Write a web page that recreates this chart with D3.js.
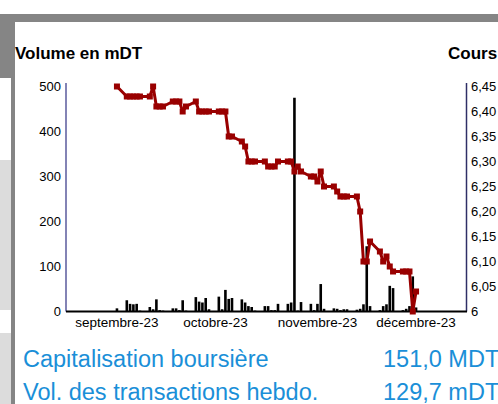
<!DOCTYPE html>
<html>
<head>
<meta charset="utf-8">
<script src="https://cdn.jsdelivr.net/npm/d3@7"></script>
<style>
  html, body { margin: 0; padding: 0; background: #fff; }
  svg { display: block; font-family: "Liberation Sans", Arial, sans-serif; }
</style>
</head>
<body>
<div id="chart"></div>
<script>
// trading days, closing price (DT) and traded volume (mDT)
const days = [
  "2023-09-15","2023-09-18","2023-09-19","2023-09-20","2023-09-21","2023-09-22",
  "2023-09-25","2023-09-26","2023-09-27","2023-09-28","2023-09-29",
  "2023-10-02","2023-10-03","2023-10-04","2023-10-05","2023-10-06",
  "2023-10-09","2023-10-10","2023-10-11","2023-10-12","2023-10-13",
  "2023-10-16","2023-10-17","2023-10-18","2023-10-19","2023-10-20",
  "2023-10-23","2023-10-24","2023-10-25","2023-10-26","2023-10-27",
  "2023-10-30","2023-10-31","2023-11-01","2023-11-02","2023-11-03",
  "2023-11-06","2023-11-07","2023-11-08","2023-11-09","2023-11-10",
  "2023-11-13","2023-11-14","2023-11-15","2023-11-16","2023-11-17",
  "2023-11-20","2023-11-21","2023-11-22","2023-11-23","2023-11-24",
  "2023-11-27","2023-11-28","2023-11-29","2023-11-30","2023-12-01",
  "2023-12-04","2023-12-05","2023-12-06","2023-12-07","2023-12-08",
  "2023-12-11","2023-12-12","2023-12-13","2023-12-14","2023-12-15"
];
const prices = [
  6.45, 6.43, 6.43, 6.43, 6.43, 6.43,
  6.43, 6.45, 6.41, 6.41, 6.41,
  6.42, 6.42, 6.42, 6.40, 6.41,
  6.42, 6.40, 6.40, 6.40, 6.40,
  6.40, 6.40, 6.40, 6.35, 6.35,
  6.34, 6.33, 6.30, 6.30, 6.30,
  6.30, 6.29, 6.29, 6.29, 6.30,
  6.30, 6.30, 6.28, 6.29, 6.28,
  6.27, 6.27, 6.26, 6.28, 6.25,
  6.25, 6.24, 6.23, 6.23, 6.23,
  6.23, 6.20, 6.10, 6.10, 6.14,
  6.12, 6.10, 6.11, 6.09, 6.08,
  6.08, 6.08, 6.08, 6.00, 6.04
];
const volumes = [
  7, 25, 17, 16, 17, 2,
  10, 5, 27, 3, 2,
  7, 7, 3, 25, 2,
  32, 22, 20, 30, 5,
  33, 5, 48, 28, 30,
  27, 20, 12, 10, 2,
  12, 12, 3, 3, 17,
  17, 20, 475, 2, 21,
  17, 3, 17, 61, 6,
  7, 6, 3, 5, 5,
  4, 6, 16, 145, 12,
  3, 12, 16, 57, 52,
  3, 6, 12, 78, 9
];

const monthTicks = ["2023-09-15", "2023-10-15", "2023-11-15", "2023-12-15"];
const monthLabels = ["septembre-23", "octobre-23", "novembre-23", "décembre-23"];
const volTicks = [0, 100, 200, 300, 400, 500];
const priceTicks = [6, 6.05, 6.10, 6.15, 6.20, 6.25, 6.30, 6.35, 6.40, 6.45];
const priceLabels = ["6", "6,05", "6,10", "6,15", "6,20", "6,25", "6,30", "6,35", "6,40", "6,45"];

const infoLabels = ["Capitalisation boursière", "Vol. des transactions hebdo."];
const infoValues = ["151,0 MDT", "129,7 mDT"];

const W = 498, H = 404;
const plot = {left: 66, right: 467, top: 86.5, bottom: 311.5};
const parse = d3.timeParse("%Y-%m-%d");
const data = days.map((d, i) => ({date: parse(d), price: prices[i], vol: volumes[i]}));

const svg = d3.select("#chart").append("svg")
  .attr("width", W)
  .attr("height", H);

// grey page frame around the widget
svg.append("rect").attr("x", 0).attr("y", 14).attr("width", W).attr("height", 8).attr("fill", "#858585");
svg.append("rect").attr("x", 0).attr("y", 14).attr("width", 15).attr("height", 64).attr("fill", "#858585");
svg.append("rect").attr("x", 0).attr("y", 160).attr("width", 11).attr("height", 150).attr("fill", "#dcdcdc");
svg.append("rect").attr("x", 0).attr("y", 333).attr("width", 11).attr("height", 71).attr("fill", "#dcdcdc");
svg.append("rect").attr("x", 11).attr("y", 14).attr("width", 4).attr("height", H - 14).attr("fill", "#858585");

// scales
const x = d3.scaleTime()
  .domain([new Date(2023, 7, 30, 12), new Date(2023, 11, 30, 12)])
  .range([plot.left, plot.right]);
const yVol = d3.scaleLinear().domain([0, 500]).range([plot.bottom, plot.top]);
const yPrice = d3.scaleLinear().domain([6, 6.45]).range([plot.bottom, plot.top]);

// titles
svg.append("text")
  .attr("x", 15).attr("y", 59)
  .attr("font-size", "17px").attr("font-weight", "bold")
  .text("Volume en mDT");
svg.append("text")
  .attr("x", 448).attr("y", 59)
  .attr("font-size", "17px").attr("font-weight", "bold")
  .text("Cours");

// left axis
const leftAxis = svg.append("g")
  .attr("transform", `translate(${plot.left}, 0)`)
  .call(d3.axisLeft(yVol).tickValues(volTicks).tickSize(0).tickPadding(5))
  .call(g => g.select(".domain").remove());
leftAxis.selectAll("text").attr("font-size", "13px").attr("fill", "#000").attr("font-family", null);
svg.append("line")
  .attr("x1", plot.left).attr("x2", plot.left)
  .attr("y1", 83).attr("y2", plot.bottom)
  .attr("stroke", "#5a5a9c").attr("stroke-width", 1.5);

// right axis
const rightAxis = svg.append("g")
  .attr("transform", `translate(${plot.right}, 0)`)
  .call(d3.axisRight(yPrice).tickValues(priceTicks)
    .tickFormat((d, i) => priceLabels[i]).tickSize(0).tickPadding(4))
  .call(g => g.select(".domain").remove());
rightAxis.selectAll("text").attr("font-size", "13px").attr("fill", "#000").attr("font-family", null);
svg.append("line")
  .attr("x1", plot.right - 0.5).attr("x2", plot.right - 0.5)
  .attr("y1", 83).attr("y2", plot.bottom)
  .attr("stroke", "#2e2e66").attr("stroke-width", 1.5);

// volume bars
svg.append("g")
  .selectAll("rect")
  .data(data)
  .join("rect")
  .attr("x", d => x(d.date) - 1.3)
  .attr("y", d => yVol(d.vol))
  .attr("width", 2.6)
  .attr("height", d => plot.bottom - yVol(d.vol))
  .attr("fill", "#000");

// bottom axis
svg.append("line")
  .attr("x1", plot.left).attr("x2", plot.right)
  .attr("y1", plot.bottom).attr("y2", plot.bottom)
  .attr("stroke", "#000").attr("stroke-width", 2);
svg.append("g")
  .selectAll("text")
  .data(monthTicks)
  .join("text")
  .attr("x", d => x(parse(d)))
  .attr("y", 327)
  .attr("text-anchor", "middle")
  .attr("font-size", "13.5px")
  .text((d, i) => monthLabels[i]);

// price line with square markers
const line = d3.line()
  .x(d => x(d.date))
  .y(d => yPrice(d.price));
svg.append("path")
  .datum(data)
  .attr("d", line)
  .attr("fill", "none")
  .attr("stroke", "#990000")
  .attr("stroke-width", 3)
  .attr("stroke-linejoin", "round");
svg.append("g")
  .selectAll("rect")
  .data(data)
  .join("rect")
  .attr("x", d => x(d.date) - 3)
  .attr("y", d => yPrice(d.price) - 3)
  .attr("width", 6)
  .attr("height", 6)
  .attr("fill", "#990000");

// summary figures under the chart
const info = svg.append("g").attr("fill", "#1a8fd8").attr("font-size", "23.5px");
info.selectAll(".lbl")
  .data(infoLabels)
  .join("text")
  .attr("class", "lbl")
  .attr("x", 23)
  .attr("y", (d, i) => 367 + i * 33)
  .text(d => d);
info.selectAll(".val")
  .data(infoValues)
  .join("text")
  .attr("class", "val")
  .attr("x", 383)
  .attr("y", (d, i) => 367 + i * 33)
  .text(d => d);
</script>
</body>
</html>
